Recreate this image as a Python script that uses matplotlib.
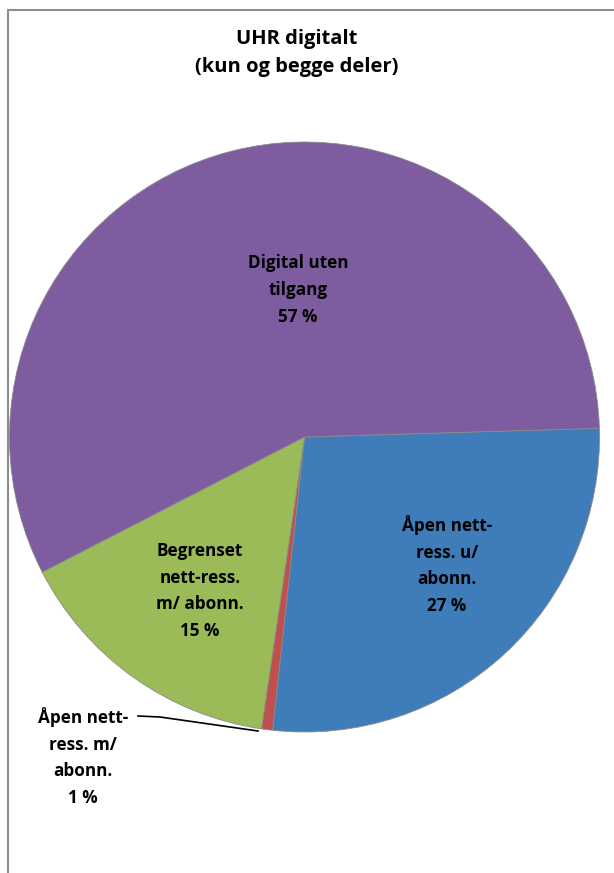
import matplotlib.pyplot as plt
from matplotlib.patches import Rectangle

# data
labels = ["Åpen nett-\nress. u/\nabonn.", "Åpen nett-\nress. m/\nabonn.",
          "Begrenset\nnett-ress.\nm/ abonn.", "Digital uten\ntilgang"]
values = [27.2, 0.6, 15.1, 57.1]
pct_labels = ["27 %", "1 %", "15 %", "57 %"]
colors = ["#3F7CBA", "#C0504D", "#9BBB59", "#7D5C9F"]

W, H = 614, 873
fig = plt.figure(figsize=(W / 100, H / 100), dpi=100)
ax = fig.add_axes([0, 0, 1, 1])

cx, cy, r = 304.5, H - 437, 295
wedges, _ = ax.pie(values, colors=colors, startangle=1.7, counterclock=False,
                   center=(cx, cy), radius=r, frame=True,
                   wedgeprops=dict(linewidth=0.6, edgecolor="#8a8a8a"))
ax.set_xlim(0, W)
ax.set_ylim(0, H)
ax.axis("off")

font = dict(family="Open Sans", fontweight="bold", fontsize=12.3,
            ha="center", va="center", linespacing=1.62)

# label positions (pixels from top-left)
pos = [(447, 565), (83, 757), (200, 591), (298, 290)]
for lab, pct, (px, py) in zip(labels, pct_labels, pos):
    ax.text(px, H - py, lab + "\n" + pct, **font)

# leader line for the small slice
ax.plot([138, 160, 258], [H - 716, H - 717, H - 731], color="black", lw=1.2)

ax.text(297, H - 53, "UHR digitalt\n(kun og begge deler)", family="Open Sans",
        fontweight="bold", fontsize=14.5, ha="center", va="center",
        linespacing=1.5)

# chart frame
fig.patches.append(Rectangle((8 / W, -0.1), 1.2, (H - 10) / H + 0.1,
                             transform=fig.transFigure, fill=False,
                             edgecolor="#8c8c8c", lw=1.5))

fig.savefig("out.png", dpi=100)
